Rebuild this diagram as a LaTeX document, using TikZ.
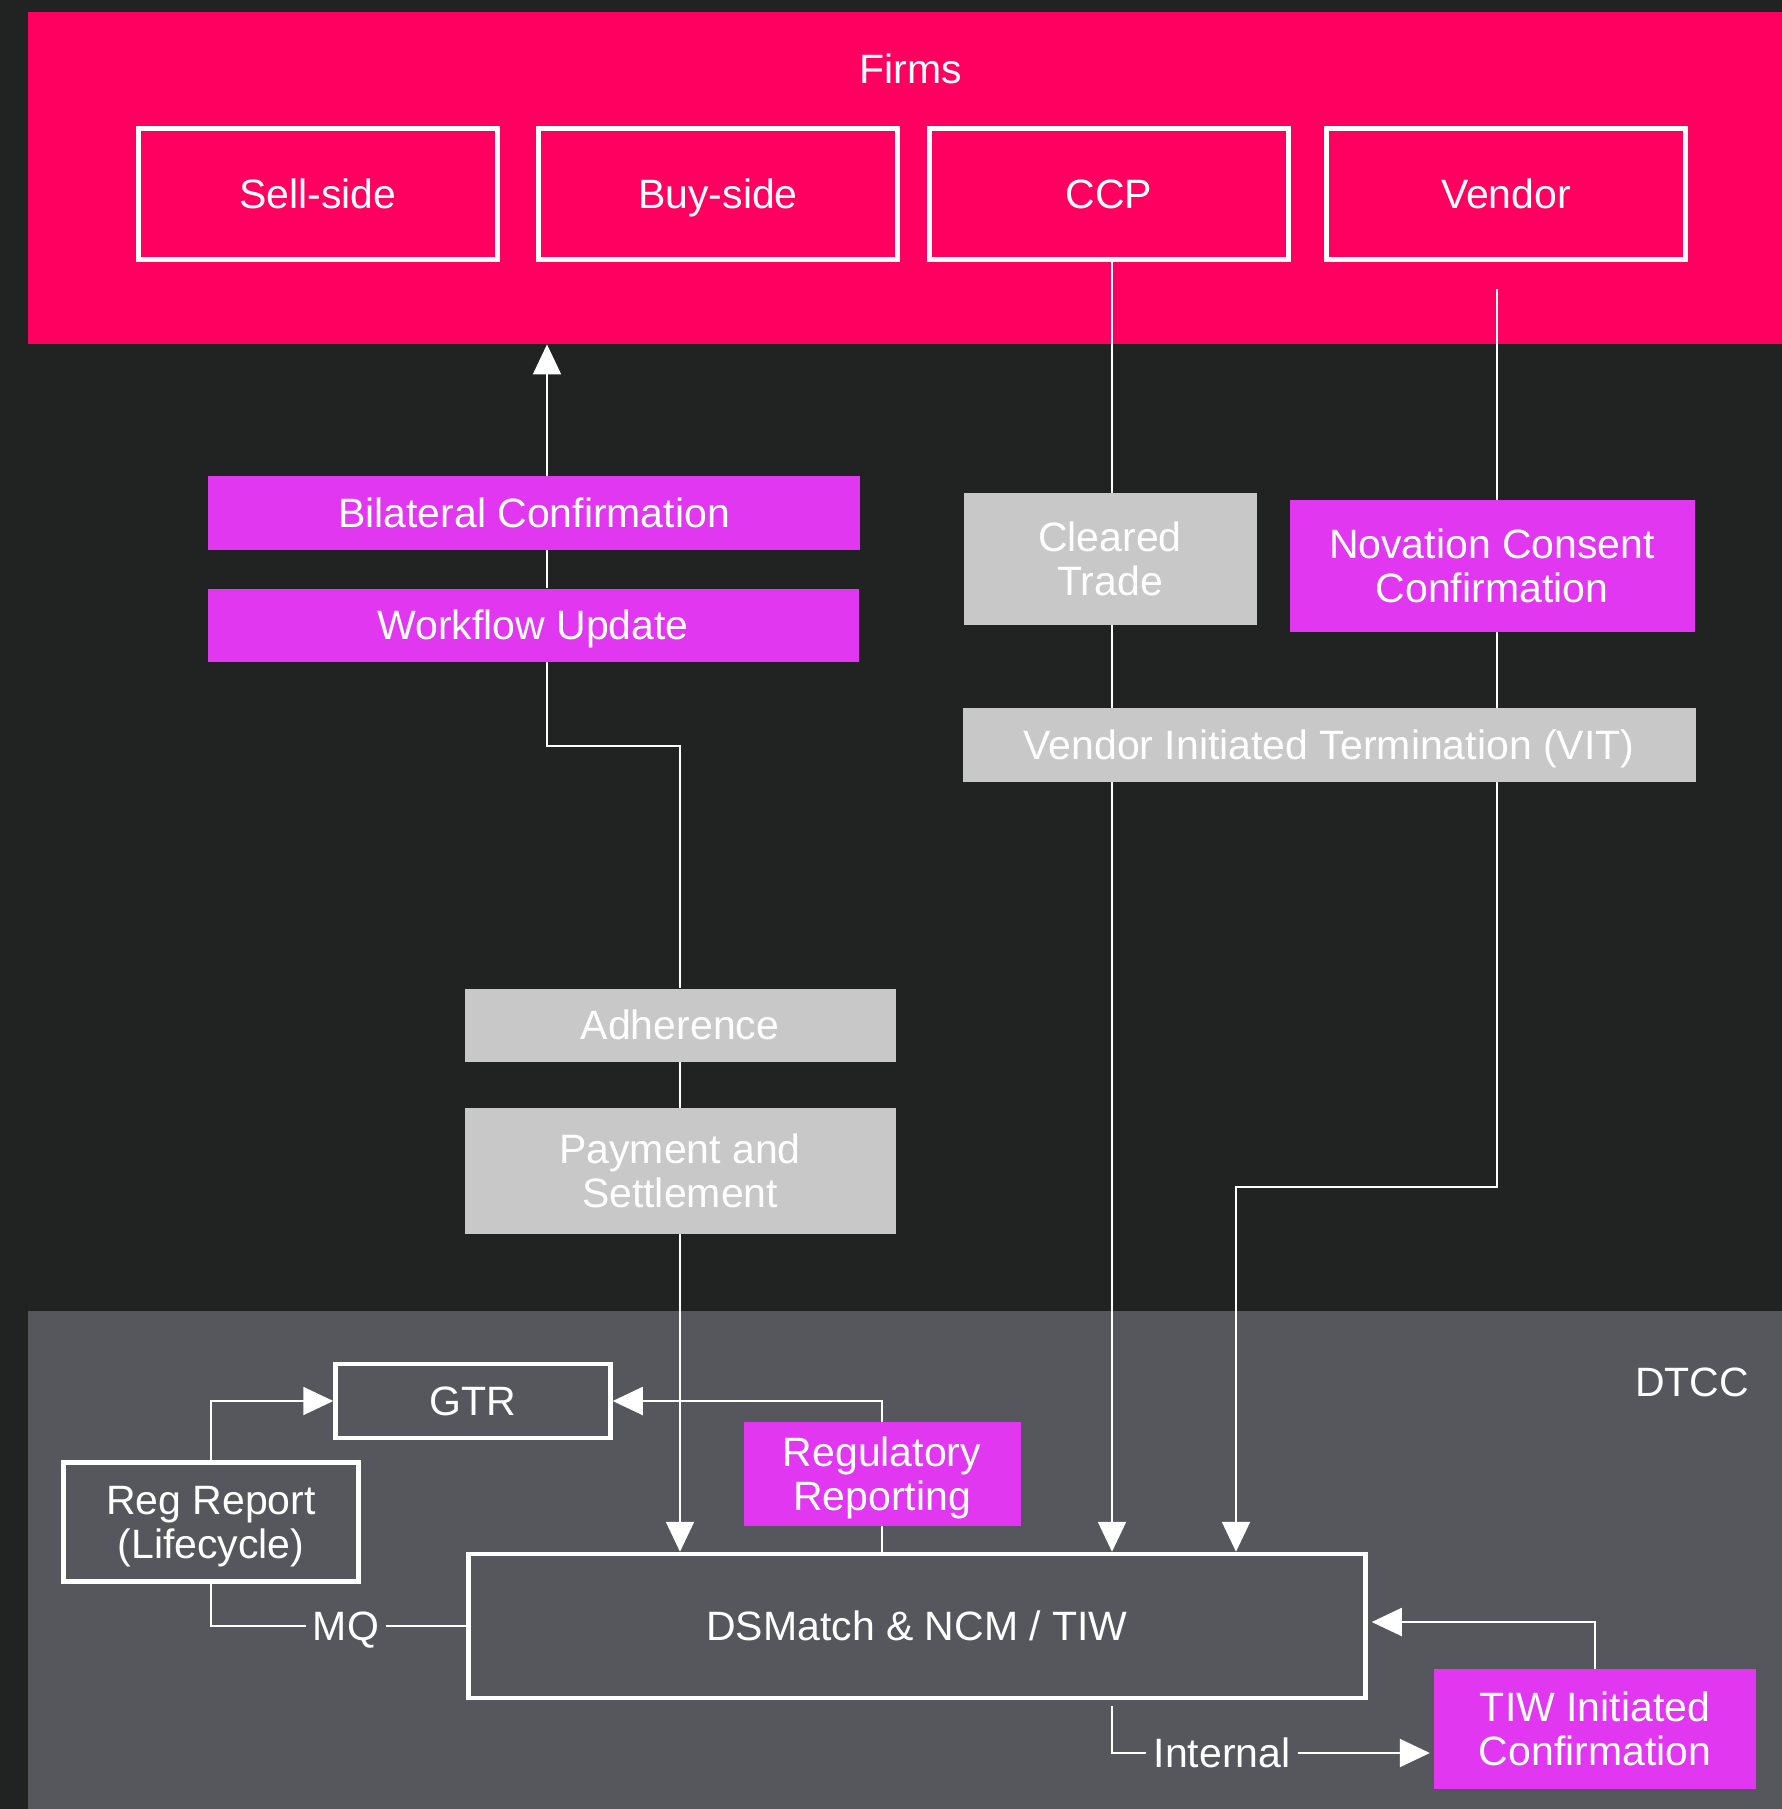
\documentclass[tikz,border=0pt]{standalone}
\usepackage{fontspec}
\setmainfont{Liberation Sans}
\usetikzlibrary{arrows.meta}
\definecolor{bgdark}{HTML}{212322}
\definecolor{firmpink}{HTML}{FF0060}
\definecolor{mag}{HTML}{E137F0}
\definecolor{lgray}{HTML}{C8C8C8}
\definecolor{dtccgray}{HTML}{56575C}
\begin{document}
\begin{tikzpicture}[x=1pt,y=-1pt,
  every node/.style={text=white, font=\fontsize{41}{44}\selectfont, inner sep=0pt, align=center, text depth=0pt},
  firmbox/.style={draw=white, line width=4.5pt, minimum width=359pt, minimum height=131pt},
  magbox/.style={fill=mag},
  graybox/.style={fill=lgray},
  wbox/.style={draw=white, line width=4.5pt},
  conn/.style={draw=white, line width=2pt},
  arr/.style={conn, -{Triangle[length=30pt,width=28pt]}},
  lbl/.style={inner xsep=7pt}
]
\path[use as bounding box, fill=bgdark] (0,0) rectangle (1782,1809);
\node[fill=firmpink, minimum width=1754pt, minimum height=332pt, anchor=north west] (band) at (28,12) {};
\node[fill=dtccgray, minimum width=1754pt, minimum height=498pt, anchor=north west] (dtcc) at (28,1311) {};

\node (firms) at (911,69) {Firms};
\node[firmbox] (sell) at (318,194) {Sell-side};
\node[firmbox] (buy) at (718,194) {Buy-side};
\node[firmbox] (ccp) at (1109,194) {CCP};
\node[firmbox] (vendor) at (1506,194) {Vendor};

\node[magbox, minimum width=652pt, minimum height=74pt] (bilat) at (534,513) {Bilateral Confirmation};
\node[magbox, minimum width=651pt, minimum height=73pt] (workflow) at (533,625) {Workflow Update};
\node[graybox, minimum width=431pt, minimum height=73pt] (adher) at (680,1025) {Adherence};
\node[graybox, minimum width=431pt, minimum height=126pt] (pay) at (680,1171) {Payment and\\Settlement};
\node[graybox, minimum width=293pt, minimum height=132pt] (cleared) at (1110,559) {Cleared\\Trade};
\node[magbox, minimum width=405pt, minimum height=132pt] (novation) at (1492,566) {Novation Consent\\Confirmation};
\node[graybox, minimum width=733pt, minimum height=74pt] (vit) at (1329,745) {Vendor Initiated Termination (VIT)};

\node (dtcclbl) at (1692,1382) {DTCC};
\node[wbox, minimum width=275pt, minimum height=74pt] (gtr) at (473,1401) {GTR};
\node[wbox, minimum width=295pt, minimum height=119pt] (regrep) at (211,1522) {Reg Report\\(Lifecycle)};
\node[magbox, minimum width=277pt, minimum height=104pt] (regrpt) at (882,1474) {Regulatory\\Reporting};
\node[wbox, minimum width=897pt, minimum height=144pt] (dsm) at (917,1626) {DSMatch \& NCM / TIW};
\node[magbox, minimum width=322pt, minimum height=120pt] (tiw) at (1595,1729) {TIW Initiated\\Confirmation};
\node[lbl] (mq) at (346,1626) {MQ};
\node[lbl] (internal) at (1222,1753) {Internal};

\coordinate (xa) at (547,0);
\coordinate (xc) at (1112,0);
\coordinate (xv) at (1497,289);
\coordinate (t1) at (547,746);
\coordinate (t2) at (1236,1187);
\coordinate (t3) at (1595,1622);
\coordinate (ib) at ([yshift=-6pt]dsm.south);

\draw[arr] (bilat.north -| xa) -- (band.south -| xa);
\draw[conn] (bilat.south -| xa) -- (workflow.north -| xa);
\draw[conn] (workflow.south -| xa) -- (t1) -| (adher.north);
\draw[conn] (adher.south) -- (pay.north);
\draw[arr] (pay.south) -- (pay.south |- dsm.north);
\draw[conn] (ccp.south -| xc) -- (cleared.north -| xc);
\draw[conn] (cleared.south -| xc) -- (vit.north -| xc);
\draw[arr] (vit.south -| xc) -- (dsm.north -| xc);
\draw[conn] (xv) -- (novation.north -| xv);
\draw[conn] (novation.south -| xv) -- (vit.north -| xv);
\draw[arr] (vit.south -| xv) |- (t2) -- (dsm.north -| t2);
\draw[arr] (regrep.north) |- (gtr.west);
\draw[arr] (regrpt.north) |- (gtr.east);
\draw[conn] (regrpt.south) -- (regrpt.south |- dsm.north);
\draw[conn] (regrep.south) |- (mq.west);
\draw[conn] (mq.east) -- (dsm.west);
\draw[arr, shorten >=4pt] (tiw.north) |- (t3 -| dsm.east);
\draw[conn] (ib -| xc) |- (internal.west);
\draw[arr, shorten >=4pt] (internal.east) -- (internal.east -| tiw.west);
\end{tikzpicture}
\end{document}
